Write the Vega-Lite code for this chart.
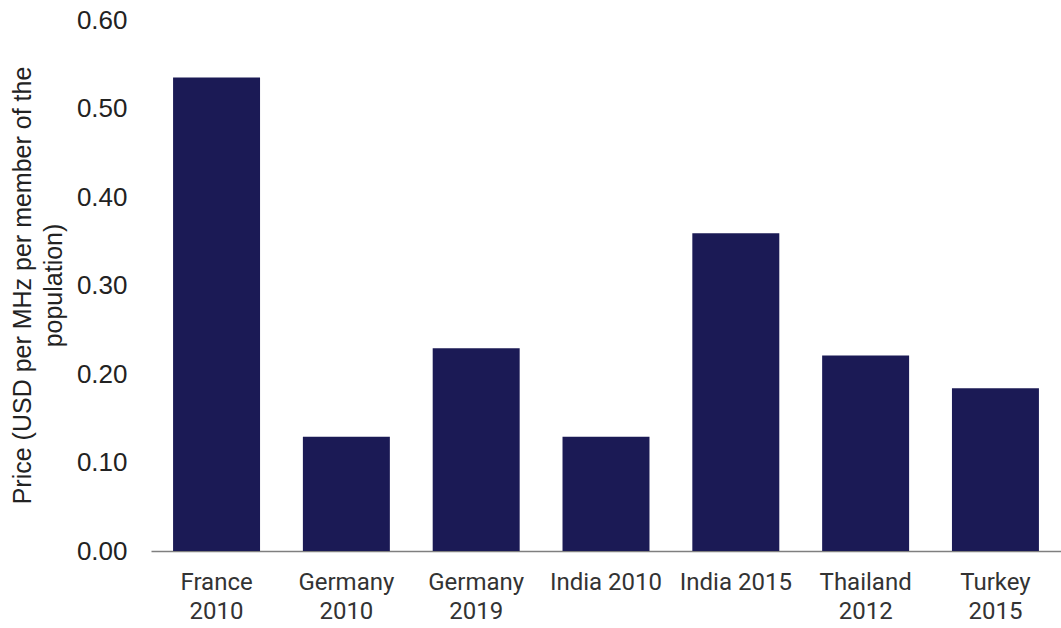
{
  "$schema": "https://vega.github.io/schema/vega-lite/v6.json",
  "width": 910,
  "height": 531,
  "autosize": "none",
  "padding": {"left": 151, "top": 20, "right": 0, "bottom": 77},
  "background": "white",
  "data": {
    "values": [
      {"label": "France 2010", "price": 0.535},
      {"label": "Germany 2010", "price": 0.129},
      {"label": "Germany 2019", "price": 0.229},
      {"label": "India 2010", "price": 0.129},
      {"label": "India 2015", "price": 0.359},
      {"label": "Thailand 2012", "price": 0.221},
      {"label": "Turkey 2015", "price": 0.184}
    ]
  },
  "mark": {"type": "bar", "color": "#1b1a55"},
  "encoding": {
    "x": {
      "field": "label",
      "type": "nominal",
      "sort": null,
      "title": null,
      "scale": {"paddingInner": 0.33, "paddingOuter": 0.17},
      "axis": {
        "labelAngle": 0,
        "ticks": false,
        "domainColor": "#7f7f7f",
        "domainWidth": 1.5,
        "labelFont": "Roboto",
        "labelFontSize": 24,
        "labelColor": "#333333",
        "labelLineHeight": 29,
        "labelPadding": 19,
        "labelExpr": "indexof(datum.label, 'India') == 0 ? datum.label : split(datum.label, ' ')"
      }
    },
    "y": {
      "field": "price",
      "type": "quantitative",
      "scale": {"domain": [0, 0.6]},
      "title": ["Price (USD per MHz per member of the", "population)"],
      "axis": {
        "values": [0, 0.1, 0.2, 0.3, 0.4, 0.5, 0.6],
        "format": ".2f",
        "grid": false,
        "domain": false,
        "ticks": false,
        "labelFont": "Liberation Sans",
        "labelFontSize": 26,
        "labelColor": "#222222",
        "labelPadding": 24,
        "titleFont": "Liberation Sans",
        "titleFontSize": 25,
        "titleFontWeight": "normal",
        "titleColor": "#222222",
        "titleLineHeight": 31,
        "titleX": -129,
        "titleY": 265,
        "titleBaseline": "middle",
        "titleAnchor": "middle"
      }
    }
  },
  "config": {"view": {"stroke": null}}
}
